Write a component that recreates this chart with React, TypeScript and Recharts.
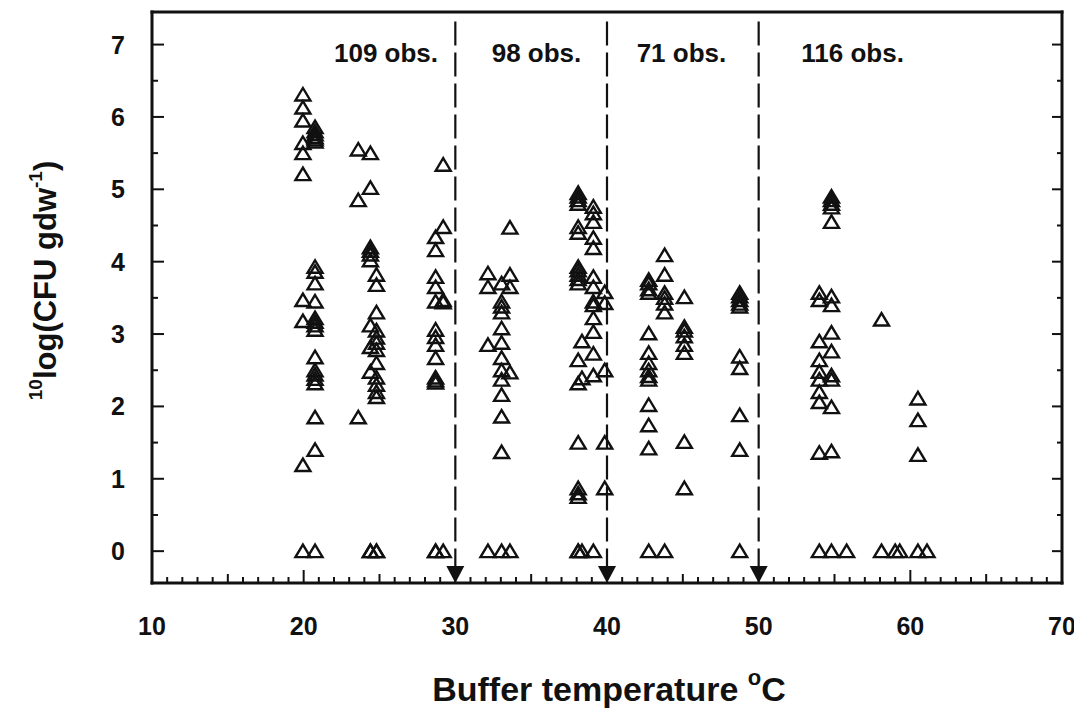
import { ScatterChart, Scatter, XAxis, YAxis, ReferenceLine, ReferenceDot, Label } from "recharts";

// 10log(CFU/gdw) per buffer temperature, grouped in the four temperature bins
const bin20to30 = [
  { t: 19.95, logs: [6.31, 6.13, 5.95, 5.64, 5.5, 5.21, 3.47, 3.18, 1.19, 0] },
  { t: 20.75, logs: [5.86, 5.8, 5.76, 5.72, 5.69, 5.66, 3.93, 3.86, 3.7, 3.45, 3.22, 3.17, 3.12, 3.06, 2.68, 2.5, 2.44, 2.38, 2.32, 1.85, 1.4, 0] },
  { t: 23.6, logs: [5.55, 4.85, 1.85] },
  { t: 24.4, logs: [5.5, 5.02, 4.2, 4.15, 4.1, 4.02, 3.12, 2.82, 2.48, 0, 0] },
  { t: 24.8, logs: [3.82, 3.68, 3.3, 3.05, 2.95, 2.88, 2.78, 2.6, 2.4, 2.3, 2.2, 2.13, 0, 0] },
  { t: 28.7, logs: [4.34, 4.16, 3.79, 3.65, 3.45, 3.06, 2.96, 2.85, 2.67, 2.4, 2.36, 2.33, 0, 0] },
  { t: 29.2, logs: [5.34, 4.48, 3.47, 3.44, 0] },
];

const bin30to40 = [
  { t: 32.15, logs: [3.84, 3.65, 2.85, 0] },
  { t: 33.05, logs: [3.7, 3.45, 3.38, 3.3, 3.08, 2.88, 2.67, 2.5, 2.37, 2.16, 1.86, 1.37, 0] },
  { t: 33.6, logs: [4.47, 3.82, 3.65, 2.47, 0] },
  { t: 38.1, logs: [4.95, 4.9, 4.85, 4.8, 4.48, 4.4, 3.93, 3.88, 3.82, 3.76, 3.7, 2.64, 2.32, 1.5, 0.87, 0.8, 0.75, 0, 0] },
  { t: 38.35, logs: [2.9, 2.39, 0] },
  { t: 39.1, logs: [4.76, 4.67, 4.55, 4.33, 4.19, 3.79, 3.65, 3.45, 3.4, 3.22, 3.03, 2.73, 2.43, 0] },
  { t: 39.85, logs: [3.58, 3.43, 2.5, 1.5, 0.87] },
];

const bin40to50 = [
  { t: 42.75, logs: [3.75, 3.7, 3.62, 3.57, 3.01, 2.74, 2.6, 2.5, 2.42, 2.37, 2.02, 1.74, 1.42, 0] },
  { t: 43.8, logs: [4.09, 3.82, 3.57, 3.5, 3.42, 3.3, 0] },
  { t: 45.1, logs: [3.51, 3.1, 3.05, 2.97, 2.85, 2.74, 1.51, 0.87] },
  { t: 48.75, logs: [3.57, 3.52, 3.47, 3.42, 3.38, 2.69, 2.53, 1.88, 1.4, 0] },
];

const bin50to60 = [
  { t: 54.0, logs: [3.57, 3.47, 2.9, 2.64, 2.48, 2.37, 2.2, 2.06, 1.36, 0] },
  { t: 54.8, logs: [4.9, 4.85, 4.8, 4.75, 4.55, 3.52, 3.4, 3.02, 2.76, 2.43, 2.37, 1.99, 1.38, 0] },
  { t: 55.8, logs: [0] },
  { t: 58.1, logs: [3.2, 0] },
  { t: 59.0, logs: [0] },
  { t: 59.3, logs: [0] },
  { t: 60.5, logs: [2.11, 1.81, 1.33, 0] },
  { t: 61.1, logs: [0] },
];

const binEdges = [30, 40, 50];
const obsLabels = ["109 obs.", "98 obs.", "71 obs.", "116 obs."];
const obsLabelTemps = [25.43, 35.35, 44.91, 56.19];
const obsLabelLevel = 6.76;

const xTickLabels = [10, 20, 30, 40, 50, 60, 70];
const yTickLabels = [0, 1, 2, 3, 4, 5, 6, 7];
const xTicks = Array.from({ length: 61 }, (_, i) => 10 + i);
const yTicks = Array.from({ length: 15 }, (_, i) => i * 0.5);

const points = [...bin20to30, ...bin30to40, ...bin40to50, ...bin50to60].flatMap((c) =>
  c.logs.map((v) => ({ x: c.t, y: v }))
);

const FONT = '"Liberation Sans", Arial, sans-serif';
const INK = "#111";

const xLen = (v: number) => (v % 10 === 0 ? 13 : v % 5 === 0 ? 9 : 6);
const yLen = (v: number) => (Number.isInteger(v) ? 12 : 6);

function BottomTick(props: any) {
  const { x, y, payload } = props;
  const v = payload.value;
  return (
    <g>
      <line x1={x} x2={x} y1={y} y2={y - xLen(v)} stroke={INK} strokeWidth={2} />
      {xTickLabels.includes(v) && (
        <text x={x} y={y + 52} textAnchor="middle" fontFamily={FONT} fontWeight="bold" fontSize={25} fill={INK}>
          {v}
        </text>
      )}
    </g>
  );
}

function TopTick(props: any) {
  const { x, y, payload } = props;
  return <line x1={x} x2={x} y1={y} y2={y + xLen(payload.value)} stroke={INK} strokeWidth={2} />;
}

function LeftTick(props: any) {
  const { x, y, payload } = props;
  const v = payload.value;
  return (
    <g>
      <line x1={x} x2={x + yLen(v)} y1={y} y2={y} stroke={INK} strokeWidth={2} />
      {yTickLabels.includes(v) && (
        <text x={x - 27} y={y + 9} textAnchor="end" fontFamily={FONT} fontWeight="bold" fontSize={25} fill={INK}>
          {v}
        </text>
      )}
    </g>
  );
}

function RightTick(props: any) {
  const { x, y, payload } = props;
  const len = Number.isInteger(payload.value) ? 10 : 5;
  return <line x1={x} x2={x - len} y1={y} y2={y} stroke={INK} strokeWidth={2} />;
}

function OpenTriangle(props: any) {
  const { cx, cy } = props;
  if (cx == null || cy == null) return <g />;
  return (
    <polygon
      points={`${cx},${cy - 6.5} ${cx - 7.5},${cy + 6} ${cx + 7.5},${cy + 6}`}
      fill="none"
      stroke={INK}
      strokeWidth={2.4}
      strokeLinejoin="miter"
    />
  );
}

function ArrowLine(props: any) {
  const { x1, y1, y2 } = props;
  const top = Math.min(y1, y2);
  const bottom = Math.max(y1, y2);
  return (
    <g>
      <line x1={x1} x2={x1} y1={top} y2={bottom - 16} stroke={INK} strokeWidth={2.2} strokeDasharray="24 7" />
      <polygon points={`${x1 - 9},${bottom - 17} ${x1 + 9},${bottom - 17} ${x1},${bottom}`} fill={INK} />
    </g>
  );
}

const frame = { stroke: INK, strokeWidth: 3, strokeLinecap: "square" as const };

export default function App() {
  return (
    <div style={{ width: 1074, height: 700, background: "#fff" }}>
      <ScatterChart width={1074} height={700} margin={{ top: 4, right: 20, left: 84, bottom: 65 }}>
        <XAxis
          dataKey="x"
          type="number"
          domain={[10, 70]}
          allowDataOverflow
          ticks={xTicks}
          interval={0}
          tickSize={0}
          tickMargin={0}
          tickLine={false}
          height={60}
          axisLine={frame}
          tick={(p: any) => <BottomTick {...p} />}
        >
          <Label
            content={(p: any) => {
              const vb = p.viewBox;
              return (
                <text
                  x={vb.x + vb.width / 2 + 2}
                  y={vb.y + 118}
                  textAnchor="middle"
                  fontFamily={FONT}
                  fontWeight="bold"
                  fontSize={34}
                  fill={INK}
                >
                  Buffer temperature{" "}
                  <tspan fontSize={22} dy={-16}>o</tspan>
                  <tspan dy={16}>C</tspan>
                </text>
              );
            }}
          />
        </XAxis>
        <XAxis
          xAxisId="top"
          orientation="top"
          mirror
          type="number"
          domain={[10, 70]}
          allowDataOverflow
          ticks={xTicks}
          interval={0}
          tickSize={0}
          tickMargin={0}
          tickLine={false}
          axisLine={frame}
          tick={(p: any) => <TopTick {...p} />}
        />
        <YAxis
          dataKey="y"
          type="number"
          domain={[-0.44, 7.45]}
          allowDataOverflow
          ticks={yTicks}
          interval={0}
          tickSize={0}
          tickMargin={0}
          tickLine={false}
          width={60}
          axisLine={frame}
          tick={(p: any) => <LeftTick {...p} />}
        >
          <Label
            content={(p: any) => {
              const vb = p.viewBox;
              const cx = vb.x - 36;
              const cy = vb.y + vb.height / 2 - 17;
              return (
                <text
                  x={cx}
                  y={cy}
                  transform={`rotate(-90, ${cx}, ${cy})`}
                  textAnchor="middle"
                  fontFamily={FONT}
                  fontWeight="bold"
                  fontSize={31}
                  fill={INK}
                >
                  <tspan fontSize={19} dy={-14}>10</tspan>
                  <tspan dy={14}>log(CFU gdw</tspan>
                  <tspan fontSize={19} dy={-14}>-1</tspan>
                  <tspan dy={14}>)</tspan>
                </text>
              );
            }}
          />
        </YAxis>
        <YAxis
          yAxisId="right"
          orientation="right"
          mirror
          type="number"
          domain={[-0.44, 7.45]}
          allowDataOverflow
          ticks={yTicks}
          interval={0}
          tickSize={0}
          tickMargin={0}
          tickLine={false}
          axisLine={frame}
          tick={(p: any) => <RightTick {...p} />}
        />
        {binEdges.map((b) => (
          <ReferenceLine
            key={b}
            segment={[
              { x: b, y: 7.32 },
              { x: b, y: -0.44 },
            ]}
            ifOverflow="visible"
            shape={(p: any) => <ArrowLine {...p} />}
          />
        ))}
        {obsLabels.map((txt, i) => (
          <ReferenceDot
            key={txt}
            x={obsLabelTemps[i]}
            y={obsLabelLevel}
            r={0}
            ifOverflow="visible"
            shape={(p: any) => (
              <text
                x={p.cx}
                y={p.cy}
                textAnchor="middle"
                fontFamily={FONT}
                fontWeight="bold"
                fontSize={26}
                fill={INK}
              >
                {txt}
              </text>
            )}
          />
        ))}
        <Scatter data={points} shape={(p: any) => <OpenTriangle {...p} />} isAnimationActive={false} />
      </ScatterChart>
    </div>
  );
}
